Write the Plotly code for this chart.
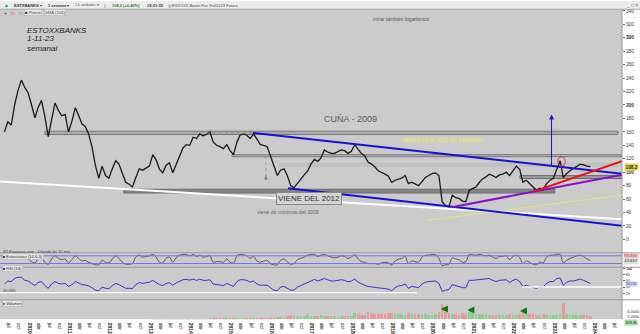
import plotly.graph_objects as go
import pandas as pd

W, H = 640, 334

# ---------------- data (monthly) ----------------
start_month = "2009-05-01"
close = [
    160, 175, 170, 200, 222, 237, 226, 218,
    200, 181, 196, 207, 183, 153, 178, 203, 192, 184, 186, 160,
    176, 196, 185, 172, 168, 157, 138, 110, 91, 109, 95, 91,
    105, 117, 112, 99, 85, 82, 78, 92, 105, 103, 106, 109,
    126, 118, 105, 99, 110, 114, 99, 112, 124, 136, 141, 140,
    152, 150, 157, 154, 156, 160, 145, 140, 138, 135, 141, 132,
    126, 145, 155, 157, 155, 150, 157, 148, 141, 140, 138, 124,
    108, 95, 103, 105, 95, 80, 77, 84, 91, 96, 102, 112,
    119, 116, 121, 133, 130, 128, 128, 130, 133, 132, 128, 131,
    141, 134, 128, 124, 115, 112, 108, 102, 100, 97, 94, 85,
    88, 90, 91, 95, 83, 85, 82, 80, 86, 92, 95, 98,
    99, 95, 56, 50, 48, 66, 62, 61, 57, 56, 73, 76,
    78, 85, 90, 93, 97, 95, 92, 96, 97, 100, 95, 102,
    109, 104, 85, 88, 83, 78, 73, 76, 74, 83, 88, 91,
    105, 117, 92, 98, 102, 105, 108, 112, 111, 109, 108.2,
]
stoch = [
    60, 85, 70, 90, 92, 88, 60, 55,
    35, 25, 60, 70, 30, 15, 55, 80, 60, 50, 55, 25,
    50, 80, 60, 40, 45, 30, 20, 10, 10, 45, 30, 25,
    55, 80, 60, 30, 15, 15, 20, 70, 85, 70, 75, 80,
    90, 70, 30, 25, 60, 70, 30, 65, 85, 90, 90, 80,
    90, 75, 85, 70, 75, 80, 30, 35, 35, 30, 55, 30,
    25, 80, 90, 88, 80, 60, 75, 40, 30, 40, 45, 20,
    10, 10, 45, 55, 35, 15, 20, 50, 60, 70, 85, 90,
    92, 75, 85, 92, 80, 70, 65, 70, 80, 75, 60, 70,
    88, 55, 35, 30, 20, 20, 20, 15, 25, 30, 25, 10,
    40, 55, 60, 75, 20, 40, 35, 30, 70, 85, 85, 90,
    88, 60, 5, 10, 15, 65, 55, 50, 30, 35, 90, 88,
    85, 90, 85, 80, 85, 70, 60, 75, 75, 80, 50, 75,
    85, 65, 20, 40, 30, 15, 10, 30, 25, 70, 85, 85,
    92, 90, 25, 45, 60, 70, 80, 85, 75, 55, 45,
]
rsi = [
    50, 60, 58, 68, 72, 72, 62, 60,
    52, 45, 55, 58, 45, 36, 50, 58, 52, 50, 52, 42,
    48, 58, 54, 48, 47, 44, 38, 30, 28, 40, 36, 34,
    45, 52, 48, 42, 36, 36, 35, 48, 55, 52, 54, 56,
    62, 56, 48, 45, 52, 54, 46, 54, 60, 64, 65, 63,
    66, 62, 66, 62, 62, 64, 50, 48, 47, 45, 52, 46,
    42, 58, 64, 64, 62, 56, 60, 50, 46, 46, 46, 38,
    30, 28, 40, 42, 36, 30, 30, 40, 45, 50, 56, 62,
    65, 60, 64, 68, 64, 60, 60, 62, 64, 62, 57, 60,
    66, 56, 50, 46, 42, 40, 38, 36, 36, 35, 33, 28,
    38, 44, 45, 50, 36, 42, 40, 38, 50, 56, 58, 60,
    60, 52, 26, 30, 32, 48, 44, 42, 38, 38, 62, 62,
    63, 66, 66, 66, 68, 62, 58, 62, 62, 64, 55, 62,
    66, 58, 42, 46, 42, 38, 36, 40, 40, 52, 58, 58,
    68, 70, 46, 56, 60, 60, 64, 66, 62, 56, 52,
]
volume_k = [
    0, 0, 0, 0, 0, 0, 0, 0,
    0, 0, 0, 0, 0, 0, 0, 0, 0, 0, 0, 0,
    0, 0, 0, 0, 0, 0, 0, 0, 0, 0, 0, 0,
    0, 0, 0, 0, 0, 0, 0, 0, 0, 0, 0, 0,
    50, 60, 50, 80, 60, 70, 60, 80, 100, 90, 80, 120,
    150, 140, 150, 160, 180, 200, 220, 200, 240, 260, 250, 280,
    300, 320, 350, 400, 380, 420, 450, 400, 500, 450, 420, 480,
    900, 1200, 1100, 1300, 1400, 1800, 1500, 1400, 1600, 1500, 1800, 1700,
    1600, 1700, 1800, 1600, 1500, 1400, 1500, 1300, 1400, 1600, 1500, 1400,
    3000, 2500, 2200, 2000, 3500, 2800, 2600, 2400, 2500, 2600, 2800, 2700,
    2400, 2300, 2500, 2200, 2800, 2600, 2400, 2500, 2300, 2400, 2200, 2100,
    2600, 3200, 6800, 3500, 3000, 2600, 2400, 2200, 2800, 2600, 3500, 2700,
    2400, 2500, 2600, 2300, 2200, 2000, 2100, 2000, 1900, 2100, 2300, 2000,
    2200, 2400, 3500, 2600, 2300, 2400, 2200, 2000, 2300, 2100, 2000, 1900,
    2200, 2300, 7400, 2600, 2200, 2000, 1900, 1800, 1900, 1800, 1700,
]
price_ticks = list(range(0, 341, 20))
rsi_ticks = [20, 40, 60, 80, 100]
vol_tick_text = ["4.000k", "2.000k"]
month_names = {4: "abr", 7: "jul", 10: "oct"}

dates = pd.date_range(start_month, periods=len(close), freq="MS") + pd.Timedelta(days=14)


# ---------------- helpers ----------------
def px(x):
    return x / W


def py(y):
    return 1 - y / H


def yf(t):
    y = int(t)
    a = pd.Timestamp(y, 1, 1)
    b = pd.Timestamp(y + 1, 1, 1)
    return a + (b - a) * (t - y)


X0, X1 = yf(2009.257), yf(2024.653)
XR = 622 / W
FONT = "Liberation Sans"

fig = go.Figure()

# price
fig.add_trace(go.Scatter(x=dates, y=close, mode="lines", line=dict(color="#1a1a1a", width=1.3),
                         xaxis="x", yaxis="y", hoverinfo="skip"))
# stochastic
fig.add_trace(go.Scatter(x=dates, y=stoch, mode="lines", line=dict(color="#6b3f4f", width=0.9, shape="spline"),
                         xaxis="x", yaxis="y2", hoverinfo="skip"))
# rsi
fig.add_trace(go.Scatter(x=dates, y=rsi, mode="lines", line=dict(color="#2020e0", width=0.9),
                         xaxis="x", yaxis="y3", hoverinfo="skip"))
# volume
vcol = ["#8fd08f"] + ["#8fd08f" if close[i] >= close[i - 1] else "#e99a9a" for i in range(1, len(close))]
fig.add_trace(go.Bar(x=dates, y=volume_k, marker=dict(color=vcol, line=dict(width=0)),
                     width=24 * 86400000, xaxis="x", yaxis="y4", hoverinfo="skip"))

# x ticks (quarters)
tv, tt = [], []
for yr in range(2009, 2025):
    for m in (1, 4, 7, 10):
        d = pd.Timestamp(yr, m, 1)
        if X0 <= d <= X1:
            tv.append(d)
            tt.append(f"<b>{yr}</b>" if m == 1 else month_names[m])

price_text = [f"<b>{v}</b>" if v in (100, 200, 300) else str(v) for v in price_ticks]
rsi_text = ["<b>100</b>" if v == 100 else str(v) for v in rsi_ticks]

axis_common = dict(showgrid=False, zeroline=False, showline=False)
fig.update_layout(
    width=W, height=H, margin=dict(l=0, r=0, t=0, b=0),
    paper_bgcolor="white", plot_bgcolor="#cbcbcb", showlegend=False,
    font=dict(family=FONT, size=5, color="#222"),
    bargap=0,
    xaxis=dict(domain=[0, XR], range=[X0, X1], anchor="y4", tickvals=tv, ticktext=tt,
               tickfont=dict(size=5, color="#111"), ticks="", ticklabelstandoff=0, **axis_common),
    yaxis=dict(domain=[py(259.5), py(8.5)], range=[-19.9, 342.5], anchor="x", side="right",
               tickvals=price_ticks, ticktext=price_text, ticks="outside", ticklen=2, tickcolor="#666",
               tickfont=dict(size=4.8, color="#333"), **axis_common),
    yaxis2=dict(domain=[py(274.5), py(259.5)], range=[-9, 104], anchor="x", side="right",
                showticklabels=False, **axis_common),
    yaxis3=dict(domain=[py(308), py(274.5)], range=[-1.6, 104.8], anchor="x", side="right",
                tickvals=rsi_ticks, ticktext=rsi_text, ticks="outside", ticklen=2, tickcolor="#666",
                tickfont=dict(size=3.9, color="#333"), **axis_common),
    yaxis4=dict(domain=[py(328), py(308)], range=[0, 8700], anchor="x", side="right",
                showticklabels=False, **axis_common),
)

shapes = []


def band(x0, x1, y0, y1, fill, line="#7a7a7a"):
    shapes.append(dict(type="rect", xref="x", yref="y", x0=x0, x1=x1, y0=y0, y1=y1,
                       fillcolor=fill, line=dict(color=line, width=1), layer="below"))


band("2010-05-16", "2024-07-21", 156, 161, "#a9a9a9")
band("2015-01-01", X1, 123, 126, "#b3b3b3")
band("2016-03-09", "2024-07-21", 109, 113, "#c2c2c2", "#bdbdbd")
band("2012-04-28", "2022-12-29", 69, 74.6, "#858585", "#6f6f6f")
band("2022-02-16", X1, 90.5, 95, "#9a9a9a", "#6f6f6f")


def tline(x0, y0, x1, y1, color, width, dash="solid"):
    shapes.append(dict(type="line", xref="x", yref="y", x0=x0, y0=y0, x1=x1, y1=y1,
                       line=dict(color=color, width=width, dash=dash)))


tline(X0, 86.2, X1, 29.9, "white", 2)
tline("2019-11-06", 28.4, X1, 66.0, "#e6e67a", 1)
tline("2015-07-08", 158.4, X1, 97.8, "#1414cc", 2)
tline("2016-05-21", 76.1, X1, 20.2, "#1414cc", 2)
tline("2020-06-09", 47.7, X1, 96.3, "#8a10c8", 2)
tline("2022-07-01", 71.8, X1, 116.5, "#ee1010", 2)
tline("2014-05-20", 158.4, "2015-07-08", 158.4, "#888888", 0.8, "dot")
tline("2015-11-03", 123.8, "2015-11-03", 93, "#8a8a8a", 0.8, "dot")

# red circle on 2023 peak
shapes.append(dict(type="circle", xref="x", yref="y", x0="2023-01-25", x1="2023-04-02", y0=109, y1=123,
                   line=dict(color="#e03030", width=1)))

# indicator levels
for lv in (80, 20):
    shapes.append(dict(type="line", xref="paper", yref="y2", x0=0, x1=XR, y0=lv, y1=lv,
                       line=dict(color="#7070f0", width=1)))
shapes.append(dict(type="line", xref="paper", yref="y3", x0=0, x1=px(417), y0=21.8, y1=21.8,
                   line=dict(color="white", width=1.2)))
shapes.append(dict(type="line", xref="paper", yref="y3", x0=px(522), x1=XR, y0=40, y1=40,
                   line=dict(color="white", width=1.5)))

# panel separators
for yy in (259.5, 274.5, 308):
    shapes.append(dict(type="line", xref="paper", yref="paper", x0=0, x1=1, y0=py(yy), y1=py(yy),
                       line=dict(color="#9a9a9a", width=1)))
shapes.append(dict(type="line", xref="paper", yref="paper", x0=XR, x1=XR, y0=py(328), y1=py(8.5),
                   line=dict(color="#9a9a9a", width=1)))
# toolbar
shapes.append(dict(type="rect", xref="paper", yref="paper", x0=0, x1=1, y0=py(8.5), y1=1,
                   fillcolor="#ececec", line=dict(width=0)))
shapes.append(dict(type="line", xref="paper", yref="paper", x0=0, x1=1, y0=py(8.5), y1=py(8.5),
                   line=dict(color="#a0a0a0", width=1)))
fig.update_layout(shapes=shapes)

ann = []


def txt(x, y, s, size=5, color="#222", xanchor="left", **kw):
    ann.append(dict(xref="paper", yref="paper", x=px(x), y=py(y), text=s, showarrow=False,
                    xanchor=xanchor, yanchor="middle", font=dict(size=size, color=color, family=FONT), **kw))


# toolbar texts
txt(2, 4.3, "▲", 5, "#2a9a2a")
txt(12, 4.3, "<b>ESTXBANKS</b> ▾", 4.0, "#333")
txt(46, 4.3, "<b>1 semana</b> ▾", 4.0, "#333")
txt(73, 4.3, "1 k unidades ▾", 3.7, "#555")
txt(102, 4.3, "▯", 4.0, "#555")
txt(110, 4.3, "<b>108,2 (+0,42%)</b>", 4.0, "#2a7a1a")
txt(145, 4.3, "<b>19:21:30</b>", 4.0, "#333")
txt(166, 4.3, "◎ ESTOXX Banks Fut. Full1223 Future", 4.0, "#444")
txt(632, 4.3, "_ □ ×", 5, "#666", "center")
txt(2, 12, "+", 5, "#333")
txt(9, 12, "▷", 5, "#d03030")
txt(17, 12, "▷", 5, "#30a030")
txt(24, 12, "■ Precio", 4.2, "#333", bgcolor="#e6e6e6", bordercolor="#aaa", borderwidth=0.5, borderpad=0.5)
txt(44, 12, "SMA (204)", 4.2, "#555", bgcolor="#e6e6e6", bordercolor="#aaa", borderwidth=0.5, borderpad=0.5)

# main annotations
txt(25, 30, "<i>ESTOXXBANKS</i>", 8, "#222")
txt(25, 39, "<i>1-11-23</i>", 8, "#222")
txt(25, 49, "<i>semanal</i>", 8, "#222")
txt(401, 19, "mirar también logaritmico", 5, "#555", "center")
txt(322, 122, "CUÑA - 2009", 9, "#5a5a5a")
txt(443, 143, "MIRAR AJUSTADO EN SEMANAL", 5.2, "#f4f04a", "center")
txt(309, 204, "VIENE DEL 2012", 8, "#333", "center", bgcolor="#d4d4d4", bordercolor="#8a8a8a",
    borderwidth=1, borderpad=1)
txt(255, 218, "viene de minimos del 2009", 5.2, "#666")
txt(1, 258, "ST-Finanzas.com - Diferido de 15 min.", 4, "#444")
txt(2, 263, "■ Estocástico (14-6-3)", 4, "#333", bgcolor="#e2e2e2", bordercolor="#aaa", borderwidth=0.5, borderpad=0.3)
txt(2, 275.8, "<span style='color:#2020e0'>■</span> RSI (14)", 4, "#333", bgcolor="#e2e2e2",
    bordercolor="#aaa", borderwidth=0.5, borderpad=0.3)
txt(1, 298, "20,559", 4, "#333")
txt(2, 311.8, "<span style='color:#30a030'>■</span> Volumen", 4, "#333", bgcolor="#e2e2e2",
    bordercolor="#aaa", borderwidth=0.5, borderpad=0.3)

# right-side value boxes and volume scale
txt(631, 171, "<b>108,2</b>", 4.8, "#222", "center", bgcolor="#e8d84a", borderpad=0.5)
txt(631, 263, "93,300", 4.2, "#c04040", "center", bgcolor="#f0c0c0", borderpad=0.3)
txt(631, 268.5, "43,657", 4.2, "#222", "center", bgcolor="#e0e0e0", borderpad=0.3)
txt(631, 292, "50,720", 3.4, "#3030c0", "center", bgcolor="#c8d0f0", borderpad=0.1)
txt(624.5, 320.3, vol_tick_text[0], 4.1, "#333")
txt(624.5, 325.5, vol_tick_text[1], 4.1, "#333")
txt(631, 331, "393,3k", 4.0, "#222", "center", bgcolor="#a8e0a8", borderpad=0.2)

# arrows
ann.append(dict(xref="x", yref="y", x="2022-11-29", y=186, ax=0, ay=53, showarrow=True, arrowhead=2,
                arrowsize=1, arrowwidth=1, arrowcolor="#1414cc", text=""))
ann.append(dict(xref="x", yref="y", x="2015-11-03", y=90.5, ax=0, ay=-5, showarrow=True, arrowhead=6,
                arrowsize=1, arrowwidth=0.8, arrowcolor="#8a8a8a", text=""))
for xx, yy in ((441, 317.5), (467.5, 318.5), (520, 319.5)):
    ann.append(dict(xref="paper", yref="paper", x=px(xx), y=py(yy), ax=8, ay=0, showarrow=True,
                    arrowhead=2, arrowsize=0.55, arrowwidth=2.5, arrowcolor="#0a7a0a", text=""))

fig.update_layout(annotations=ann)
fig.write_html("out.html")
